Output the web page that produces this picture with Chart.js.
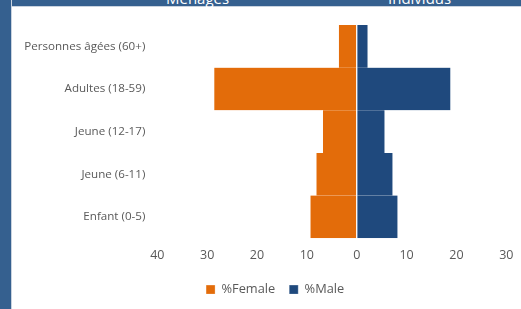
<!DOCTYPE html>
<html>
<head>
<meta charset="utf-8">
<script src="https://cdn.jsdelivr.net/npm/chart.js@4.4.1/dist/chart.umd.min.js"></script>
<style>
  html, body { margin: 0; padding: 0; background: #fff; }
  body { width: 521px; height: 309px; position: relative; overflow: hidden; font-family: "Open Sans", sans-serif; }
  .frame-top { position: absolute; left: 0; top: 0; width: 521px; height: 6px; background: #35608f; border-bottom: 1px solid #c9d3df; }
  .frame-left { position: absolute; left: 0; top: 0; width: 11px; height: 309px; background: #35608f; border-right: 1px solid #c9d3df; }
  .hdr { position: absolute; top: -12px; color: #fff; font-size: 15px; font-family: "Open Sans", sans-serif; }
  #wrap { position: absolute; left: 12px; top: 7px; width: 509px; height: 302px; }
</style>
</head>
<body>
<div class="frame-top"></div>
<div class="frame-left"></div>
<span class="hdr" style="left:166px">Ménages</span>
<span class="hdr" style="left:388px">Individus</span>
<div id="wrap"><canvas id="pyramid"></canvas></div>
<script>
const ageGroups = ["Personnes âgées (60+)", "Adultes (18-59)", "Jeune (12-17)", "Jeune (6-11)", "Enfant (0-5)"];
const femalePct = [3.7, 28.7, 6.9, 8.2, 9.4];
const malePct = [2.3, 18.9, 5.7, 7.3, 8.3];

const grey = '#595959';

// the legend in the original sits a bit right of the canvas centre
const legendShift = {
  id: 'legendShift',
  afterLayout(chart) {
    chart.legend.left += 16;
    chart.legend.right += 16;
  }
};

const ctx = document.getElementById('pyramid').getContext('2d');
new Chart(ctx, {
  type: 'bar',
  data: {
    labels: ageGroups,
    datasets: [
      {
        label: '%Female',
        data: femalePct.map(v => -v),
        backgroundColor: '#e36c0a',
        borderColor: 'rgba(255,255,255,0.55)',
        borderWidth: { left: 1, right: 1, top: 0, bottom: 0 },
        borderSkipped: false
      },
      {
        label: '%Male',
        data: malePct,
        backgroundColor: '#1f497d',
        borderColor: 'rgba(255,255,255,0.55)',
        borderWidth: { left: 1, right: 1, top: 0, bottom: 0 },
        borderSkipped: false
      }
    ]
  },
  plugins: [legendShift],
  options: {
    indexAxis: 'y',
    responsive: true,
    maintainAspectRatio: false,
    animation: false,
    barPercentage: 1,
    categoryPercentage: 1,
    layout: { padding: { left: 0, right: 14.7, top: 18, bottom: 3 } },
    scales: {
      x: {
        stacked: true,
        min: -40,
        max: 30,
        ticks: {
          stepSize: 10,
          color: grey,
          font: { family: 'Open Sans', size: 12.5 },
          padding: 2,
          callback: v => Math.abs(v)
        },
        grid: { display: false },
        border: { display: false },
        afterFit: s => { s.height += 4; }
      },
      y: {
        stacked: true,
        ticks: {
          color: grey,
          font: { family: 'Open Sans', size: 11.6 },
          padding: 4
        },
        grid: { display: false },
        border: { display: false },
        afterFit: s => { s.width = 145.3; }
      }
    },
    plugins: {
      legend: {
        position: 'bottom',
        labels: {
          boxWidth: 9,
          boxHeight: 9,
          color: grey,
          font: { family: 'Open Sans', size: 12.8 },
          padding: 14
        }
      },
      tooltip: { enabled: false }
    }
  }
});
</script>
</body>
</html>
